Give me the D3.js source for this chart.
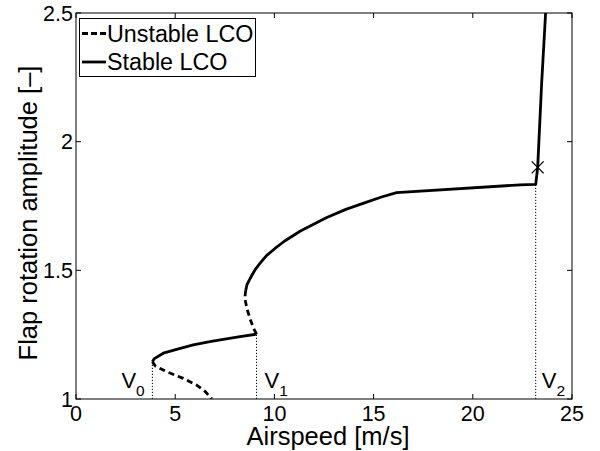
<!DOCTYPE html>
<html>
<head>
<meta charset="utf-8">
<script src="https://cdn.jsdelivr.net/npm/d3@7"></script>
<style>
  html, body { margin: 0; padding: 0; background: #fff; }
  svg text { font-family: "Liberation Sans", Arial, Helvetica, sans-serif; fill: #000; }
</style>
</head>
<body>
<svg id="chart" width="600" height="451"></svg>
<script>
// ---- data ----
const xTicks = [0, 5, 10, 15, 20, 25];
const yTicks = [1, 1.5, 2, 2.5];
const yTickLabels = ["1", "1.5", "2", "2.5"];

const unstableLowV = [3.85, 4.0, 4.57, 5.41, 6.08, 6.5, 6.85];
const unstableLowA = [1.145, 1.128, 1.106, 1.080, 1.054, 1.030, 1.0];

const stableLowV = [3.85, 3.95, 4.4, 5.07, 5.91, 6.75, 7.5, 8.27, 9.1];
const stableLowA = [1.145, 1.157, 1.178, 1.193, 1.210, 1.223, 1.233, 1.242, 1.252];

const unstableMidV = [9.1, 8.95, 8.78, 8.62, 8.54, 8.52, 8.55];
const unstableMidA = [1.252, 1.275, 1.31, 1.35, 1.38, 1.40, 1.42];

const stableHighV = [8.55, 8.62, 8.72, 8.86, 9.05, 9.27, 9.6, 10.03, 10.5, 11.29, 12.0, 12.64, 13.6, 14.65, 15.4, 16.16, 22.38, 23.17, 23.27, 23.47, 23.67];
const stableHighA = [1.42, 1.445, 1.46, 1.48, 1.505, 1.527, 1.557, 1.585, 1.613, 1.652, 1.68, 1.705, 1.737, 1.765, 1.785, 1.802, 1.832, 1.834, 1.90, 2.227, 2.5];

const markerV = [23.27];
const markerA = [1.90];

const critV = [3.85, 9.1, 23.17];
const critA = [1.14, 1.252, 1.834];
const critLabels = ["0", "1", "2"];

const legendLabels = ["Unstable LCO", "Stable LCO"];

// ---- layout ----
const svg = d3.select("#chart");
const L = 76, R = 572, T = 13, B = 399;
const x = d3.scaleLinear().domain([0, 25]).range([L, R]);
const y = d3.scaleLinear().domain([1, 2.5]).range([B, T]);

svg.append("defs").append("clipPath").attr("id", "clip")
  .append("rect").attr("x", L).attr("y", T).attr("width", R - L).attr("height", B - T);

const zip = (vs, as) => vs.map((v, i) => [v, as[i]]);
const line = d3.line().x(d => x(d[0])).y(d => y(d[1]));

// dotted vertical critical lines
const g = svg.append("g").attr("clip-path", "url(#clip)");
critV.forEach((v, i) => {
  g.append("line")
    .attr("x1", x(v)).attr("x2", x(v))
    .attr("y1", y(1)).attr("y2", y(critA[i]))
    .attr("stroke", "#000").attr("stroke-width", 1)
    .attr("stroke-dasharray", "1.2,1.8");
});

// curves
const dashed = "6,4";
[[unstableLowV, unstableLowA, true], [stableLowV, stableLowA, false],
 [unstableMidV, unstableMidA, true], [stableHighV, stableHighA, false]].forEach(([vs, as, dash]) => {
  g.append("path")
    .attr("d", line(zip(vs, as)))
    .attr("fill", "none").attr("stroke", "#000").attr("stroke-width", 2.8)
    .attr("stroke-linejoin", "round")
    .attr("stroke-dasharray", dash ? dashed : null);
});

// x marker
markerV.forEach((v, i) => {
  const cx = x(v), cy = y(markerA[i]), s = 6;
  svg.append("path")
    .attr("d", `M${cx - s},${cy - s}L${cx + s},${cy + s}M${cx - s},${cy + s}L${cx + s},${cy - s}`)
    .attr("stroke", "#000").attr("stroke-width", 1.3).attr("fill", "none");
});

// critical labels
const labelPos = [
  {dx: -31, anchor: "start"},
  {dx: 8, anchor: "start"},
  {dx: 6, anchor: "start"}
];
critV.forEach((v, i) => {
  const t = svg.append("text")
    .attr("x", x(v) + labelPos[i].dx).attr("y", 388)
    .attr("font-size", 22);
  t.append("tspan").text("V");
  t.append("tspan").attr("font-size", 15.5).attr("dy", 8).text(critLabels[i]);
});

// frame
svg.append("rect").attr("x", L).attr("y", T).attr("width", R - L).attr("height", B - T)
  .attr("fill", "none").attr("stroke", "#000").attr("stroke-width", 1);

// ticks
const tl = 5;
xTicks.forEach(v => {
  svg.append("line").attr("x1", x(v)).attr("x2", x(v)).attr("y1", B).attr("y2", B - tl).attr("stroke", "#000");
  svg.append("line").attr("x1", x(v)).attr("x2", x(v)).attr("y1", T).attr("y2", T + tl).attr("stroke", "#000");
  svg.append("text").attr("x", x(v)).attr("y", 421).attr("text-anchor", "middle")
    .attr("font-size", 21.5).text(String(v));
});
yTicks.forEach((v, i) => {
  svg.append("line").attr("x1", L).attr("x2", L + tl).attr("y1", y(v)).attr("y2", y(v)).attr("stroke", "#000");
  svg.append("line").attr("x1", R).attr("x2", R - tl).attr("y1", y(v)).attr("y2", y(v)).attr("stroke", "#000");
  svg.append("text").attr("x", 73).attr("y", y(v)).attr("dy", "0.36em").attr("text-anchor", "end")
    .attr("font-size", 21.5).text(yTickLabels[i]);
});

// axis labels
svg.append("text").attr("x", 328).attr("y", 445).attr("text-anchor", "middle")
  .attr("font-size", 25.5).text("Airspeed [m/s]");
svg.append("text").attr("transform", "translate(37,213) rotate(-90)").attr("text-anchor", "middle")
  .attr("font-size", 25.5).text("Flap rotation amplitude [\u2013]");

// legend
const lg = svg.append("g");
lg.append("rect").attr("x", 79.5).attr("y", 18.5).attr("width", 176).attr("height", 58)
  .attr("fill", "#fff").attr("stroke", "#000").attr("stroke-width", 1);
legendLabels.forEach((lab, i) => {
  const ly = i === 0 ? 33.5 : 62;
  lg.append("line").attr("x1", 82).attr("x2", 106).attr("y1", ly).attr("y2", ly)
    .attr("stroke", "#000").attr("stroke-width", 2.8)
    .attr("stroke-dasharray", i === 0 ? "6,3" : null);
  lg.append("text").attr("x", 107).attr("y", i === 0 ? 41.5 : 70)
    .attr("font-size", 23.3).text(lab);
});
</script>
</body>
</html>
